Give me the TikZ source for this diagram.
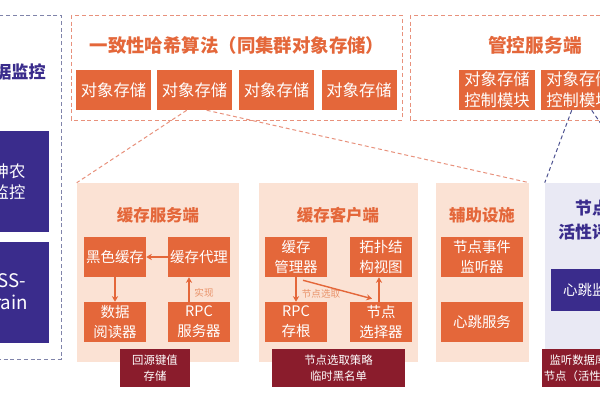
\documentclass[tikz,border=0pt]{standalone}
\usepackage{fontspec}
\setmainfont{Noto Sans CJK SC}
\usetikzlibrary{arrows.meta,calc}
\definecolor{orng}{HTML}{E4673A}
\definecolor{salmon}{HTML}{E8917C}
\definecolor{peach}{HTML}{FBE2D4}
\definecolor{lav}{HTML}{E9E9F4}
\definecolor{purp}{HTML}{3A2C8C}
\definecolor{maroon}{HTML}{8A1C2C}
\definecolor{lblor}{HTML}{E9936A}
\definecolor{greyblue}{HTML}{8084AA}
\definecolor{dblue}{HTML}{4C5190}
\def\pxu{0.025cm}
\begin{document}
\begin{tikzpicture}[x=0.025cm,y=-0.025cm,
  fr/.style={draw=salmon,dashed,line width=0.7pt,dash pattern=on 2.8pt off 2pt},
  ttl/.style={text=orng,font=\fontsize{13.1}{16}\selectfont\bfseries},
  obox/.style={fill=orng,text=white,inner sep=0pt,align=center},
  big/.style={font=\fontsize{11.6}{15}\selectfont},
  small/.style={font=\fontsize{10.3}{14}\selectfont},
  panel/.style={fill=peach,inner sep=0pt},
  ptitle/.style={text=orng,font=\fontsize{11.7}{14}\selectfont\bfseries},
  mbox/.style={fill=maroon,text=white,inner sep=0pt,align=center,font=\fontsize{8.1}{11.5}\selectfont},
  pbox/.style={fill=purp,text=white,inner sep=0pt,align=center},
  arr/.style={draw=orng,line width=1pt,-{Stealth[length=4pt,width=4.5pt]}},
  alabel/.style={text=lblor,font=\fontsize{6.8}{8}\selectfont},
  cn/.style={draw=salmon,line width=0.7pt,dash pattern=on 2.8pt off 2pt},
  bn/.style={draw=dblue,line width=0.7pt,dash pattern=on 2.8pt off 2pt}
]
\useasboundingbox (0,0) rectangle (600,400);
\clip (0,0) rectangle (600,400);
\fill[white] (0,0) rectangle (600,400);

% left column
\draw[greyblue,line width=0.7pt,dash pattern=on 2.8pt off 2pt] (-10,15) rectangle (61,359);
\node[anchor=east,text=purp,font=\fontsize{12.2}{15}\selectfont\bfseries,inner sep=0pt] (lt) at (46,72) {数据监控};
\node[pbox,minimum width=109*\pxu,minimum height=101*\pxu] (pb1) at (-5.5,181.5) {};
\node[text=white,align=center,font=\fontsize{11.6}{15}\selectfont,inner sep=0pt] (pt1) at (9,182) {神农\\监控};
\node[pbox,minimum width=109*\pxu,minimum height=101*\pxu] (pb2) at (-5.5,292.5) {};
\node[text=white,align=center,font=\fontsize{13.3}{15.5}\selectfont,inner sep=0pt] (pt2) at (5,292) {OSS-\\Brain};

% top frame 1
\draw[fr] (71,15) rectangle (402,120);
\node[ttl] (t1) at (237,45) {一致性哈希算法（同集群对象存储）};
\foreach \n/\x in {ob1/113.5,ob2/194.5,ob3/276.5,ob4/359}
  \node[obox,big,minimum width=75*\pxu,minimum height=40*\pxu] (\n) at (\x,90) {对象存储};

% top frame 2
\draw[fr] (410,15) rectangle (660,120);
\node[ttl,font=\fontsize{13.3}{16}\selectfont\bfseries] (t2) at (535,45) {管控服务端};
\node[obox,big,minimum width=76*\pxu,minimum height=40*\pxu] (cm1) at (497,90) {对象存储\\控制模块};
\node[obox,big,minimum width=76*\pxu,minimum height=40*\pxu] (cm2) at (579,90) {对象存储\\控制模块};

% panels
\node[panel,minimum width=162*\pxu,minimum height=179*\pxu] (p1) at (158,272.5) {};
\node[panel,minimum width=159*\pxu,minimum height=179*\pxu] (p2) at (338.5,272.5) {};
\node[panel,minimum width=93*\pxu,minimum height=179*\pxu] (p3) at (482.5,272.5) {};
\node[fill=lav,inner sep=0pt,minimum width=96*\pxu,minimum height=179*\pxu] (p4) at (593,272.5) {};

\node[ptitle] (pt1t) at (158,215) {缓存服务端};
\node[ptitle] (pt2t) at (338,215) {缓存客户端};
\node[ptitle] (pt3t) at (482,215) {辅助设施};
\node[text=purp,align=center,font=\fontsize{12}{16.5}\selectfont\bfseries,inner sep=0pt] (pt4t) at (592,220) {节点\\活性评估};

% dashed connectors
\coordinate (c1) at ($(ob2.south west)+(30,0)$);
\coordinate (c2) at ($(ob2.south west)+(50,0)$);
\draw[cn] (c1) -- (p1.north west);
\draw[cn] (c2) -- (p3.north east);
\coordinate (c3) at ($(cm2.south west)+(31,0)$);
\coordinate (c4) at ($(cm2.south west)+(51,0)$);
\draw[bn] (c3) -- (p4.north west);
\draw[bn] (c4) -- (p4.north east);

% panel 1
\node[obox,small,minimum width=62*\pxu,minimum height=40*\pxu] (hc) at (115,257) {黑色缓存};
\node[obox,small,minimum width=62*\pxu,minimum height=40*\pxu] (cp) at (199,257) {缓存代理};
\node[obox,small,minimum width=62*\pxu,minimum height=40*\pxu] (dr) at (115,322) {数据\\阅读器};
\node[obox,small,minimum width=62*\pxu,minimum height=40*\pxu] (rs) at (199,322) {RPC\\服务器};
\draw[arr] (cp.west) -- (hc.east);
\draw[arr] (hc.south) -- (dr.north);
\draw[arr] ($(rs.north)+(-10,0)$) -- ($(cp.south)+(-10,0)$);
\node[alabel] (l1) at (204,293) {实现};

% panel 2
\node[obox,small,minimum width=62*\pxu,minimum height=40*\pxu] (cmg) at (296,257) {缓存\\管理器};
\node[obox,small,minimum width=62*\pxu,minimum height=40*\pxu] (tv) at (381,257) {拓扑结\\构视图};
\node[obox,small,minimum width=62*\pxu,minimum height=40*\pxu] (rst) at (296,322) {RPC\\存根};
\node[obox,small,minimum width=62*\pxu,minimum height=40*\pxu] (ns) at (381,322) {节点\\选择器};
\draw[arr] (cmg.south) -- (rst.north);
\node[alabel] (l2) at (321,294) {节点选取};
\draw[arr] ($(cmg.south)+(7,3)$) -- ($(ns.north)+(-9,-3)$);
\draw[arr] ($(ns.north)+(-2,0)$) -- ($(tv.south)+(-2,0)$);

% panel 3
\node[obox,small,minimum width=82*\pxu,minimum height=40*\pxu] (ne) at (482,257) {节点事件\\监听器};
\node[obox,small,minimum width=82*\pxu,minimum height=40*\pxu] (hb) at (482,322) {心跳服务};

% panel 4
\node[pbox,small,minimum width=82*\pxu,minimum height=42*\pxu] (hm) at (592,290) {心跳监控};

% maroon boxes
\node[mbox,minimum width=70*\pxu,minimum height=38*\pxu] (m1) at (155,368) {回源键值\\存储};
\node[mbox,minimum width=133*\pxu,minimum height=38*\pxu] (m2) at (338.5,368) {节点选取策略\\临时黑名单};
\node[mbox,minimum width=72*\pxu,minimum height=38*\pxu] (m3) at (578,368) {监听数据库\\节点（活性）};
\end{tikzpicture}
\end{document}
